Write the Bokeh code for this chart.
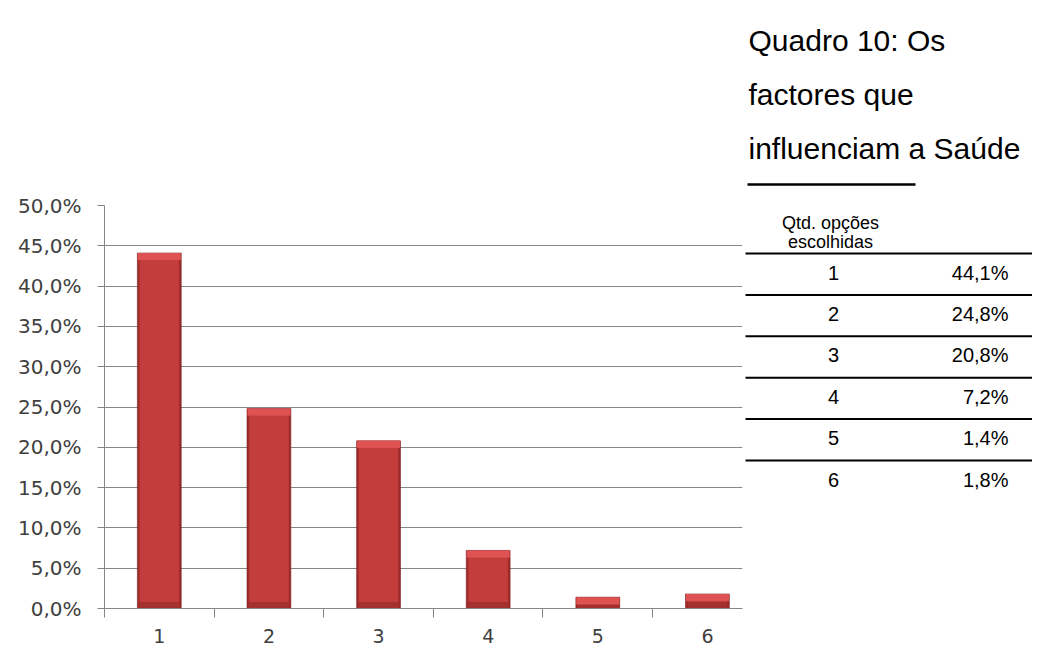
from bokeh.plotting import figure
from bokeh.models import Range1d, FixedTicker, ColumnDataSource
from bokeh.layouts import row
from bokeh.embed import file_html
from bokeh.resources import INLINE
from bokeh.core.properties import value

# ---- data ----
CATEGORIES = [1, 2, 3, 4, 5, 6]
VALUES = [44.1, 24.8, 20.8, 7.2, 1.4, 1.8]          # percent
Y_TICKS = [0, 5, 10, 15, 20, 25, 30, 35, 40, 45, 50]
TITLE_LINES = ["Quadro 10: Os", "factores que", "influenciam a Saúde"]
TABLE_HEADER = ["Qtd. opções", "escolhidas"]

def pct(v, nd=1):
    return (f"{v:.{nd}f}%").replace(".", ",")

# ---- chart ----
GRAY = "#868686"
TXT = "#404040"
p = figure(width=744, height=645, output_backend="svg", toolbar_location=None,
           x_range=Range1d(0.5, 6.32), y_range=Range1d(0, 50),
           min_border_left=104, min_border_top=205, min_border_bottom=37,
           min_border_right=2)
p.outline_line_color = None
p.background_fill_color = "white"
p.frame_align = False

bw = 0.40
src = ColumnDataSource(dict(
    x=CATEGORIES, top=VALUES,
    cap=[v - 0.9 for v in VALUES],
    base_top=[min(0.8, v) for v in VALUES],
))
# outer bar (edges)
p.vbar(x="x", top="top", bottom=0, width=bw, source=src,
       fill_color="#9E2A2A", line_color="#7E1E1E", line_width=0.6)
# main face
p.vbar(x="x", top="cap", bottom=0.8, width=bw * 0.9, source=src,
       fill_color="#C43D3D", line_color=None)
# bottom darker strip
p.vbar(x="x", top="base_top", bottom=0, width=bw * 0.9, source=src,
       fill_color="#A53030", line_color=None)
# top lighter bevel
p.vbar(x="x", top="top", bottom="cap", width=bw * 0.98, source=src,
       fill_color="#DE5252", line_color=None)

p.yaxis.ticker = FixedTicker(ticks=Y_TICKS)
p.yaxis.major_label_overrides = {t: pct(t) for t in Y_TICKS}
p.yaxis.axis_line_color = GRAY
p.yaxis.major_tick_line_color = GRAY
p.yaxis.major_tick_out = 7
p.yaxis.major_tick_in = 0
p.yaxis.minor_tick_line_color = None
p.yaxis.major_label_standoff = 16
p.yaxis.major_label_text_font = "DejaVu Sans"
p.yaxis.major_label_text_font_size = "20px"
p.yaxis.major_label_text_color = TXT

p.xaxis.ticker = FixedTicker(ticks=CATEGORIES,
                             minor_ticks=[c - 0.5 for c in CATEGORIES])
p.xaxis.axis_line_color = GRAY
p.xaxis.major_tick_line_color = None
p.xaxis.major_tick_out = 0
p.xaxis.major_tick_in = 0
p.xaxis.minor_tick_line_color = GRAY
p.xaxis.minor_tick_out = 9
p.xaxis.minor_tick_in = 0
p.xaxis.major_label_standoff = 11
p.xaxis.major_label_text_font = "DejaVu Sans"
p.xaxis.major_label_text_font_size = "19px"
p.xaxis.major_label_text_color = TXT

p.xgrid.grid_line_color = None
p.ygrid.ticker = FixedTicker(ticks=Y_TICKS)
p.ygrid.grid_line_color = GRAY
p.ygrid.grid_line_width = 1

# ---- title + table panel (page-pixel coordinates) ----
q = figure(width=288, height=645, output_backend="svg", toolbar_location=None,
           x_range=Range1d(744, 1032), y_range=Range1d(645, 0),
           min_border=0)
q.frame_align = False
q.axis.visible = False
q.grid.grid_line_color = None
q.outline_line_color = None

q.text(x=[748] * len(TITLE_LINES), y=[40 + 54 * i for i in range(len(TITLE_LINES))],
       text=TITLE_LINES, text_font=value("Liberation Sans"),
       text_font_size="30px", text_color="black", text_baseline="alphabetic",
       text_align="left")
q.segment(x0=[747], y0=[184], x1=[915], y1=[184], line_color="black", line_width=2.5)

q.text(x=[830] * len(TABLE_HEADER), y=[222 + 19 * i for i in range(len(TABLE_HEADER))],
       text=TABLE_HEADER, text_font=value("Liberation Sans"),
       text_font_size="18px", text_color="black", text_baseline="middle",
       text_align="center")

n = len(CATEGORIES)
line_y = [253 + 41.4 * i for i in range(n)]
q.segment(x0=[745] * n, y0=line_y, x1=[1032] * n, y1=line_y,
          line_color="black", line_width=2)
row_y = [ly + 19 for ly in line_y]
q.text(x=[833] * n, y=row_y, text=[str(c) for c in CATEGORIES],
       text_font=value("Liberation Sans"), text_font_size="20px",
       text_color="black", text_baseline="middle", text_align="center")
q.text(x=[1008] * n, y=row_y, text=[pct(v) for v in VALUES],
       text_font=value("Liberation Sans"), text_font_size="20px",
       text_color="black", text_baseline="middle", text_align="right")

layout = row(p, q)
open("out.html", "w").write(file_html(layout, INLINE))
